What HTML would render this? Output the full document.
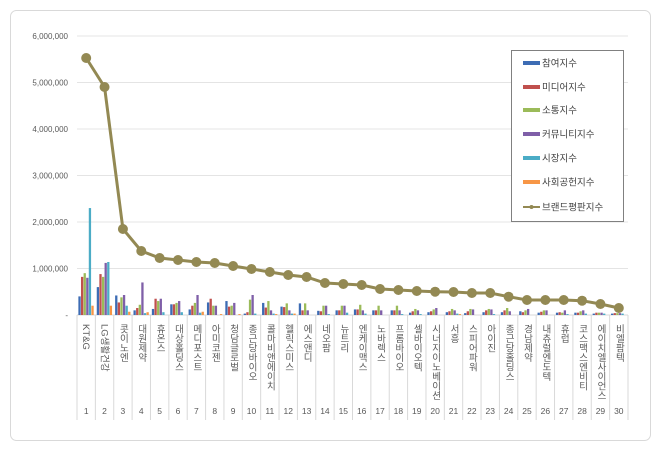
<!DOCTYPE html>
<html><head><meta charset="utf-8"><style>
body{margin:0;background:#fff;}
svg{display:block;font-family:"Liberation Sans","Noto Sans CJK KR",sans-serif;}
</style></head><body>
<svg id="s" width="660" height="451" xmlns="http://www.w3.org/2000/svg">
<rect x="10.5" y="10.5" width="640" height="430" rx="6" fill="#fff" stroke="#d9d9d9"/>
</svg>
<script>
const s=document.getElementById('s');const NS='http://www.w3.org/2000/svg';
function el(t,a,txt){const e=document.createElementNS(NS,t);for(const k in a)e.setAttribute(k,a[k]);if(txt!==undefined)e.textContent=txt;s.appendChild(e);return e;}
const x0=77,x1=628,y0=315,pm=46.5,cw=(x1-x0)/30;
for(let i=0;i<=6;i++){const y=y0-i*pm;
 if(i>0)el('line',{x1:x0,x2:x1,y1:y,y2:y,stroke:'#e4e4e4'});
 el('text',{x:68,y:y+3,'font-size':'8','fill':'#595959','text-anchor':'end'},i==0?'-':(i+',000,000'));}
el('line',{x1:x0,x2:x1,y1:y0,y2:y0,stroke:'#d9d9d9'});
for(let i=0;i<=30;i++){const x=x0+i*cw;el('line',{x1:x,x2:x,y1:y0,y2:420,stroke:'#d9d9d9'});}
const names=['KT&G','LG생활건강','콧이노엔','대원제약','휴온스','대상홀딩스','메디포스트','아미코젠','청담글로벌','종근당바이오','콜마비앤에이치','헬릭스미스','에스앤디','네오팜','뉴트리','엔케이맥스','노바렉스','프롬바이오','셀바이오텍','시너지이노베이션','서흥','스피어파워','아이진','종근당홀딩스','경남제약','내츄럴엔도텍','휴럽','코스맥스엔비티','에이치엘사이언스','비엘팜텍'];
const cols=['#3d6cb4','#c0504d','#9bbb59','#7f5fa8','#4bacc6','#f79646'];
const data=[[.4,.82,.9,.8,2.3,.2],[.6,.88,.82,1.12,1.14,.2],[.42,.27,.38,.43,.2,.07],[.1,.15,.22,.7,.04,.06],[.13,.35,.3,.35,.06,0],[.23,.23,.26,.3,.06,0],[.12,.2,.26,.43,.05,.07],[.27,.35,.2,.2,0,.02],[.3,.18,.2,.26,0,.02],[.03,.06,.33,.43,.03,0],[.26,.16,.3,.1,.03,.02],[.18,.17,.25,.1,.03,.03],[.25,.1,.25,.1,0,0],[.09,.08,.2,.2,.02,0],[.1,.1,.2,.2,.05,0],[.12,.12,.22,.1,.03,0],[.1,.1,.2,.1,0,0],[.1,.1,.2,.1,.02,0],[.05,.08,.13,.1,.02,0],[.06,.08,.12,.15,0,0],[.06,.08,.13,.1,.03,.02],[.04,.08,.13,.12,0,0],[.06,.1,.13,.12,.02,0],[.06,.1,.15,.08,0,0],[.08,.06,.1,.13,0,0],[.05,.07,.1,.1,0,0],[.05,.06,.05,.1,.02,0],[.05,.05,.08,.1,.03,0],[.03,.05,.05,.05,.03,0],[.03,.04,.04,.04,.03,0]];
const bw=2.6;
data.forEach((d,i)=>{const c=x0+(i+.5)*cw;d.forEach((v,j)=>{const h=v*pm;if(h>0)el('rect',{x:c-3*bw+j*bw,y:y0-h,width:bw-.3,height:h,fill:cols[j]});});});
const ly=[58,87,229,251,258,260,262,263,266,269,272,275,277,283,284,285,289,290,291,291.7,292,293,293,296.7,300,300,300,300.7,304,308];
let p='';ly.forEach((y,i)=>{p+=(i?'L':'M')+(x0+(i+.5)*cw)+' '+y;});
el('path',{d:p,fill:'none',stroke:'#938953','stroke-width':3});
ly.forEach((y,i)=>el('circle',{cx:x0+(i+.5)*cw,cy:y,r:5,fill:'#938953'}));
names.forEach((n,i)=>{const c=x0+(i+.5)*cw;const t=el('text',{x:c,y:324,'font-size':'9.5','fill':'#595959','text-anchor':'start','writing-mode':'tb'});
 if(n.match(/^[A-Z]/)){t.setAttribute('transform','rotate(90 '+c+' 324) translate(0 3)');t.removeAttribute('writing-mode');t.setAttribute('x',c);} 
 t.textContent=n;
 el('text',{x:c,y:414,'font-size':'8.5','fill':'#595959','text-anchor':'middle'},String(i+1));});
el('rect',{x:511.5,y:50.5,width:112,height:171,fill:'#fff',stroke:'#808080'});
const lab=['참여지수','미디어지수','소통지수','커뮤니티지수','시장지수','사회공헌지수','브랜드평판지수'];
const lyy=[63,87,110,134,158,182,207];
lab.forEach((t,i)=>{const y=lyy[i];
 if(i<6)el('rect',{x:523,y:y-2,width:17,height:4,fill:cols[i]});
 else{el('line',{x1:523,x2:540,y1:y,y2:y,stroke:'#938953','stroke-width':2});el('circle',{cx:531.5,cy:y,r:2,fill:'#938953'});}
 el('text',{x:542,y:y+3.5,'font-size':'9.5','fill':'#404040'},t);});
</script>
</body></html>
